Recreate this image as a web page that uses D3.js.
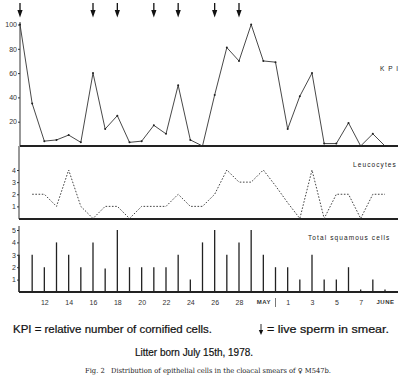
<!DOCTYPE html>
<html><head><meta charset="utf-8">
<script src="https://cdn.jsdelivr.net/npm/d3@7"></script>
<style>html,body{margin:0;padding:0;background:#fff}svg{display:block}</style>
</head><body>
<script>
// ---- data (x = day index, 0 = 10th) ----
const dayIndex = d3.range(0, 31);
const kpi = [100,35,4,5,9,3,60,14,25,3,4,17,10,50,5,0,42,81,70,100,70,69,14,41,60,2,2,19,0,10,0];
const leucocytes = [null,2,2,1,4,1,0,1,1,0,1,1,1,2,1,1,2,4,3,3,4,2.7,1.3,0,4,0,2,2,0,2,2];
const squamous = [3,3,2,4,3,2,4,1.9,5,2,2,2,2,3,1,4,5,3,4,5,3,2,2,1,3,1,1,2,0.2,1,0.2];
const spermDays = [0,6,8,11,13,16,18];
const xTickIdx = [2,4,6,8,10,12,14,16,18,20,22,24,26,28,30];
const xTickLabels = ["12","14","16","18","20","22","24","26","28","MAY","1","3","5","7","JUNE"];
const kpiTicks = [20,40,60,80,100];
const leuTicks = [1,2,3,4];
const totTicks = [1,2,3,4,5];

const W = 409, H = 383;
const svg = d3.select("body").append("svg").attr("width", W).attr("height", H);
const ink = "#222";
const sans = "Liberation Sans, Arial, sans-serif";

const x = d3.scaleLinear().domain([0, 30]).range([20, 385]);
const yK = d3.scaleLinear().domain([0, 100]).range([146, 24.5]);
const yL = d3.scaleLinear().domain([0, 4]).range([218.5, 170]);
const yT = d3.scaleLinear().domain([0, 5]).range([292, 230]);

function styleAxis(g) {
  g.selectAll("text").attr("font-family", sans).attr("font-size", 7).attr("fill", "#333");
  g.selectAll("line").attr("stroke", "#333");
  g.select(".domain").remove();
}

// y axes
svg.append("g").attr("transform", "translate(20,0)")
  .call(d3.axisLeft(yK).tickValues(kpiTicks).tickSize(2).tickPadding(1)).call(styleAxis);
svg.append("line").attr("x1", 20).attr("x2", 20).attr("y1", 22).attr("y2", 146).attr("stroke", "#333");

svg.append("g").attr("transform", "translate(19,0)")
  .call(d3.axisLeft(yL).tickValues(leuTicks).tickFormat(d3.format("d")).tickSize(2).tickPadding(1)).call(styleAxis);
svg.append("line").attr("x1", 19).attr("x2", 19).attr("y1", 146).attr("y2", 219).attr("stroke", "#333");

svg.append("g").attr("transform", "translate(19,0)")
  .call(d3.axisLeft(yT).tickValues(totTicks).tickFormat(d3.format("d")).tickSize(2).tickPadding(1)).call(styleAxis);
svg.append("line").attr("x1", 19).attr("x2", 19).attr("y1", 226).attr("y2", 292).attr("stroke", "#333");

// baselines
[[146, 20], [219, 19], [292, 19]].forEach(([yy, x0]) => {
  svg.append("line").attr("x1", x0).attr("x2", 398).attr("y1", yy).attr("y2", yy)
    .attr("stroke", ink).attr("stroke-width", 2);
});

// KPI line
svg.append("path").datum(kpi)
  .attr("d", d3.line().x((d, i) => x(i)).y(d => yK(d)))
  .attr("fill", "none").attr("stroke", "#333").attr("stroke-width", 0.9);
svg.selectAll(".kdot").data(kpi).join("circle")
  .attr("cx", (d, i) => x(i)).attr("cy", d => yK(d)).attr("r", 1).attr("fill", "#222");

// sperm arrows
spermDays.forEach(i => {
  const cx = x(i);
  svg.append("line").attr("x1", cx).attr("x2", cx).attr("y1", 3).attr("y2", 13).attr("stroke", "#111").attr("stroke-width", 1.3);
  svg.append("path").attr("d", `M${cx-2.6},10 L${cx+2.6},10 L${cx},17.5 Z`).attr("fill", "#111");
});

// Leucocytes dotted
svg.append("path").datum(leucocytes)
  .attr("d", d3.line().defined(d => d !== null).x((d, i) => x(i)).y(d => yL(d)))
  .attr("fill", "none").attr("stroke", "#444").attr("stroke-width", 1).attr("stroke-dasharray", "1.6,1.6");

// Squamous bars
svg.selectAll(".bar").data(squamous).join("line")
  .attr("x1", (d, i) => x(i) - (i === 0 ? 1 : 0)).attr("x2", (d, i) => x(i) - (i === 0 ? 1 : 0))
  .attr("y1", yT(0)).attr("y2", d => yT(d))
  .attr("stroke", "#222").attr("stroke-width", 1.3);

// x axis labels
svg.append("g").attr("transform", "translate(0,296)")
  .call(d3.axisBottom(x).tickValues(xTickIdx).tickFormat((d, i) => xTickLabels[i]).tickSize(0).tickPadding(4))
  .call(styleAxis)
  .call(g => g.selectAll("text").filter(t => t === 20 || t === 30).attr("font-size", 6).attr("font-weight", "bold").attr("letter-spacing", 0.5));
svg.append("line").attr("x1", x(21)).attr("x2", x(21)).attr("y1", 298).attr("y2", 307).attr("stroke", "#555").attr("stroke-width", 0.8);

// panel labels
const lab = (t, xx, yy, fs, ls) => svg.append("text").attr("x", xx).attr("y", yy).text(t)
  .attr("font-family", sans).attr("font-size", fs).attr("letter-spacing", ls).attr("fill", "#222");
lab("K P I", 380, 71, 6.5, 1);
lab("Leucocytes", 353, 167, 6.5, 1.1);
lab("Total squamous cells", 308, 240, 6.5, 1.1);

// footer
svg.append("text").attr("x", 13).attr("y", 333).text("KPI = relative number of cornified cells.")
  .attr("font-family", sans).attr("font-size", 10.5).attr("fill", "#111").attr("stroke", "#111").attr("stroke-width", 0.2)
  .attr("textLength", 199).attr("lengthAdjust", "spacingAndGlyphs");
svg.append("line").attr("x1", 261).attr("x2", 261).attr("y1", 324).attr("y2", 330).attr("stroke", "#111").attr("stroke-width", 0.9);
svg.append("path").attr("d", "M258.8,330 L263.2,330 L261,335 Z").attr("fill", "#111");
svg.append("text").attr("x", 267).attr("y", 333).text("= live sperm in smear.")
  .attr("font-family", sans).attr("font-size", 10.5).attr("fill", "#111").attr("stroke", "#111").attr("stroke-width", 0.2)
  .attr("textLength", 122).attr("lengthAdjust", "spacingAndGlyphs");
svg.append("text").attr("x", 135).attr("y", 355.5).text("Litter born July 15th, 1978.")
  .attr("font-family", sans).attr("font-size", 10.5).attr("fill", "#111").attr("stroke", "#111").attr("stroke-width", 0.2)
  .attr("textLength", 118).attr("lengthAdjust", "spacingAndGlyphs");
svg.append("text").attr("x", 85).attr("y", 373).style("white-space", "pre")
  .text("Fig. 2\u00a0\u00a0\u00a0Distribution of epithelial cells in the cloacal smears of \u2640 M547b.")
  .attr("font-family", "DejaVu Serif, Liberation Serif, serif").attr("font-size", 7).attr("fill", "#222")
  .attr("textLength", 246).attr("lengthAdjust", "spacingAndGlyphs");
</script>
</body></html>
